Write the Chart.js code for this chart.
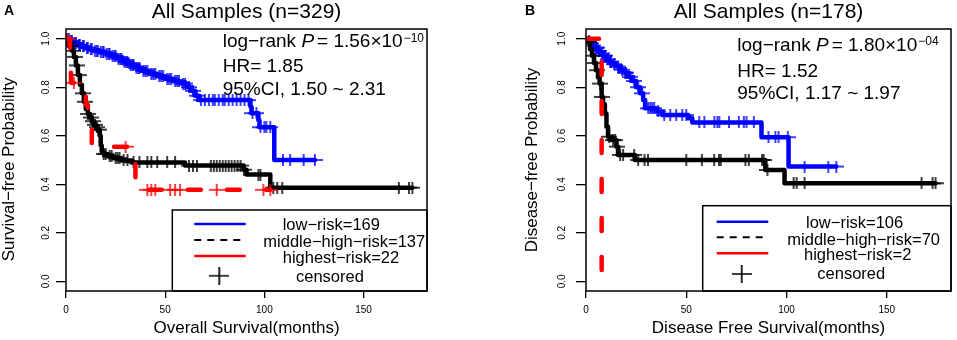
<!DOCTYPE html>
<html>
<head>
<meta charset="utf-8">
<script src="https://cdn.jsdelivr.net/npm/chart.js@4.4.1/dist/chart.umd.min.js"></script>
<style>
  html, body { margin: 0; padding: 0; background: #fff; }
  #wrap { position: relative; width: 957px; height: 340px; overflow: hidden; }
  canvas { position: absolute; top: 0; }
  #chartA { left: 0; }
  #chartB { left: 480px; }
</style>
</head>
<body>
<div id="wrap">
  <canvas id="chartA" width="480" height="340"></canvas>
  <canvas id="chartB" width="477" height="340"></canvas>
</div>
<script>
// ---- shared axes ----
const xTicks = [0, 50, 100, 150];
const yTicks = [0.0, 0.2, 0.4, 0.6, 0.8, 1.0];

// ---- panel A : overall survival (event times / survival after event) ----
const lowA_t = [0, 2, 4, 6, 8, 10, 12, 14, 17, 20, 23, 26, 29, 32, 35, 38, 42, 46, 50, 54, 58, 61, 63, 65, 67, 93, 93.5, 97, 97.5, 105, 125.5];
const lowA_s = [1, .99, .982, .975, .968, .962, .957, .951, .945, .938, .928, .918, .905, .893, .88, .868, .856, .845, .835, .825, .815, .80, .785, .765, .747, .72, .693, .664, .635, .50, .50];
const lowA_cens = [0.5, 1.5, 2.5, 3, 4.5, 5, 6.5, 7, 8.5, 9, 10.5, 11, 12.5, 13, 14.5, 15.5, 16, 17.5, 18.5, 19, 20.5, 21.5, 22, 23.5, 24.5, 25, 26.5, 27.5, 28, 29.5, 30.5, 31, 32.5, 33.5, 34, 35.5, 36.5, 37, 39, 40, 41, 43, 44, 45, 47, 48, 49, 51, 52, 53, 55, 56, 57, 59, 60, 62, 64, 66, 68, 70, 72, 74, 75, 77, 79, 80, 82, 84, 86, 88, 90, 92, 94, 96, 98, 100, 101, 103, 109.4, 113, 119.8, 125.5];

const midA_t = [0, 1, 2, 3, 4, 5, 6, 7, 8, 9, 10, 11, 12, 13, 14, 15, 16, 17, 17.5, 18, 19, 21, 24, 28, 33, 60, 89.5, 91, 103, 174.6];
const midA_s = [1, .985, .97, .95, .925, .89, .85, .81, .775, .74, .71, .69, .675, .66, .645, .635, .625, .60, .56, .535, .525, .515, .507, .498, .49, .477, .46, .44, .386, .386];
const midA_cens = [1, 2.5, 3.5, 4.5, 5.5, 6.5, 8.5, 9.5, 11, 12.5, 13.5, 14.5, 15.5, 16.5, 19, 20, 22, 23, 25, 26, 27, 29, 31, 34, 37, 41, 43, 46, 51, 55, 62, 64, 66, 73, 74.5, 76, 77.5, 79, 80.5, 82, 83.5, 85, 86.5, 88, 89.7, 97, 98, 104.5, 106.5, 109, 167.8, 172.9, 174.6];

const highA_t = [0, 2, 2.5, 10, 11, 12, 13, 35, 103];
const highA_s = [1, .909, .818, .727, .682, .636, .555, .377, .377];
const highA_cens = [1, 4, 30, 41, 43, 45, 52.5, 55, 57.5, 76, 99.5, 103];

const titleA = 'All Samples (n=329)';
const xLabelA = 'Overall Survival(months)';
const yLabelA = 'Survival\u2212free Probability    ';
const legendA = ['low\u2212risk=169', 'middle\u2212high\u2212risk=137', 'highest\u2212risk=22', 'censored'];
const statA = ['1.56', '\u221210', '1.85', '1.50', '2.31'];

// ---- panel B : disease free survival ----
const lowB_t = [0, 1, 2, 3, 4.5, 6, 7, 8.5, 10, 11.5, 13, 15, 17, 19, 21, 23, 25, 27, 28.5, 29.5, 35, 38, 51, 53, 87.5, 101, 124.8];
const lowB_s = [1, .99, .981, .972, .963, .95, .94, .93, .915, .905, .895, .885, .872, .86, .843, .826, .80, .775, .747, .713, .70, .685, .672, .655, .594, .473, .473];
const lowB_cens = [1.5, 2.5, 3.5, 5, 5.5, 6.5, 8, 9, 9.5, 11, 12, 12.5, 14, 16, 18, 19.5, 20, 22, 24, 26, 28, 31, 32, 33, 34, 36, 39, 42, 45, 48, 50, 56.5, 59, 64, 65.5, 66.5, 71.3, 76.2, 78.7, 80, 83.7, 91, 94.4, 96, 100.6, 109, 120.8, 124.8];

const midB_t = [0, 1, 2, 3, 4, 5, 6, 6.8, 7.8, 8.5, 9.4, 10.2, 11, 12.7, 15.2, 16, 24.3, 89.4, 99, 174.3];
const midB_s = [1, .986, .957, .93, .90, .87, .84, .815, .76, .73, .692, .637, .596, .582, .555, .521, .50, .459, .404, .404];
const midB_cens = [1.5, 3.5, 4.5, 5.5, 7, 8, 11.5, 13.5, 14.5, 15.5, 17, 18.5, 24, 26, 29.2, 30.9, 50, 57.8, 63.9, 66.3, 67.2, 79.5, 81.2, 87.8, 88.6, 90.5, 103.5, 105, 109, 167.3, 172.8, 174.3];

const highB_t = [0, 7.8];
const highB_s = [1, 0];
const highB_cens = [];

const titleB = 'All Samples (n=178)';
const xLabelB = 'Disease Free Survival(months)';
const yLabelB = 'Disease\u2212free Probability';
const legendB = ['low\u2212risk=106', 'middle\u2212high\u2212risk=70', 'highest\u2212risk=2', 'censored'];
const statB = ['1.80', '\u221204', '1.52', '1.17', '1.97'];

// ---- helpers ----
const FAM = "'Liberation Sans', Arial, Helvetica, sans-serif";
const BLUE = '#0000ff', BLACK = '#000000', RED = '#ff0000';

function makePlus(color, w, h, lw) {
  const c = document.createElement('canvas');
  c.width = w; c.height = h;
  const g = c.getContext('2d');
  g.strokeStyle = color;
  g.lineWidth = lw;
  g.beginPath();
  g.moveTo(0, h / 2); g.lineTo(w, h / 2);
  g.moveTo(w / 2, 0); g.lineTo(w / 2, h);
  g.stroke();
  return c;
}

function survAt(times, surv, t) {
  let s = surv[0];
  for (let i = 0; i < times.length; i++) {
    if (times[i] <= t) s = surv[i];
  }
  return s;
}

function curveSet(times, surv, color, dashed) {
  return {
    data: times.map((t, i) => ({ x: t, y: surv[i] })),
    showLine: true,
    stepped: 'before',
    borderColor: color,
    borderWidth: 4.5,
    borderDash: dashed ? [13, 26] : [],
    borderCapStyle: 'round',
    borderJoinStyle: 'round',
    pointRadius: 0,
    fill: false
  };
}

function censorSet(times, surv, cens, color) {
  return {
    data: cens.map(t => ({ x: t, y: survAt(times, surv, t) })),
    showLine: false,
    pointStyle: makePlus(color, 16, 12, 1.5),
    pointRadius: 5,
    borderColor: color,
    backgroundColor: color
  };
}

function panelDecor(p) {
  return {
    id: 'panelDecor',
    afterDatasetsDraw(chart) {
      const ctx = chart.ctx;
      const a = chart.chartArea;
      ctx.save();
      // legend box
      ctx.fillStyle = '#fff';
      ctx.fillRect(p.legX, p.legY, a.right - p.legX, a.bottom - p.legY);
      ctx.strokeStyle = '#000';
      ctx.lineWidth = 1.5;
      ctx.strokeRect(p.legX, p.legY, a.right - p.legX, a.bottom - p.legY);
      // plot box
      ctx.strokeRect(a.left, a.top, a.right - a.left, a.bottom - a.top);

      // legend samples
      const cols = [BLUE, BLACK, RED];
      for (let i = 0; i < 3; i++) {
        ctx.beginPath();
        ctx.strokeStyle = cols[i];
        ctx.lineWidth = i === 1 ? 2 : 2.5;
        ctx.setLineDash(i === 1 ? [7, 6] : []);
        ctx.moveTo(p.sampleX[0], p.sampleY[i]);
        ctx.lineTo(p.sampleX[1], p.sampleY[i]);
        ctx.stroke();
      }
      ctx.setLineDash([]);
      const plus = makePlus('#000', 20, 18, 1.7);
      ctx.drawImage(plus, p.plusXY[0] - 10, p.plusXY[1] - 9);

      // legend text
      ctx.fillStyle = '#000';
      ctx.textBaseline = 'alphabetic';
      ctx.textAlign = 'left';
      ctx.font = '16.5px ' + FAM;
      p.legend.forEach((s, i) => ctx.fillText(s, p.legTextX[i], p.legTextY[i]));

      // statistics
      const F19 = '19px ' + FAM;
      let x = p.statX;
      const y0 = p.statY[0];
      ctx.font = F19;
      ctx.fillText('log\u2212rank ', x, y0);
      x += ctx.measureText('log\u2212rank ').width;
      ctx.font = 'italic ' + F19;
      ctx.fillText('P', x, y0);
      x += ctx.measureText('P').width + 3;
      ctx.font = F19;
      const pTxt = '= ' + p.stat[0] + '\u00d710';
      ctx.fillText(pTxt, x, y0);
      x += ctx.measureText(pTxt).width + 1;
      ctx.font = '12px ' + FAM;
      ctx.fillText(p.stat[1], x, y0 - 5.5);
      ctx.font = F19;
      ctx.fillText('HR= ' + p.stat[2], p.statX, p.statY[1]);
      ctx.fillText('95%CI, ' + p.stat[3] + ' ~ ' + p.stat[4], p.statX, p.statY[2]);

      // panel letter
      ctx.font = 'bold 14px ' + FAM;
      ctx.fillText(p.letter, p.letterX, 15);
      ctx.restore();
    }
  };
}

function buildPanel(id, sets, txt, lay) {
  const ctx = document.getElementById(id).getContext('2d');
  new Chart(ctx, {
    type: 'scatter',
    data: { datasets: sets },
    options: {
      responsive: false,
      animation: false,
      devicePixelRatio: 1,
      layout: { padding: { left: 0, right: lay.padRight, top: 0, bottom: 0 } },
      plugins: {
        legend: { display: false },
        tooltip: { enabled: false },
        title: {
          display: true,
          text: txt.title,
          fullSize: false,
          color: '#000',
          font: { family: FAM, size: 21, weight: 'normal', lineHeight: 1.2 },
          padding: { top: 0, bottom: 3.8 }
        }
      },
      scales: {
        x: {
          type: 'linear',
          min: 0,
          max: 182,
          afterBuildTicks: s => { s.ticks = xTicks.map(v => ({ value: v })); },
          afterFit: s => { s.height = 49; },
          ticks: {
            color: '#000',
            font: { family: FAM, size: 10 },
            padding: 6.5,
            maxRotation: 0,
            callback: v => String(v)
          },
          grid: { drawOnChartArea: false, tickLength: 7, color: '#000', lineWidth: 1.3 },
          border: { display: false },
          title: {
            display: true,
            text: txt.xLabel,
            color: '#000',
            font: { family: FAM, size: 17, lineHeight: 1.2 },
            padding: { top: 0, bottom: 1.8 }
          }
        },
        y: {
          type: 'linear',
          min: -0.04,
          max: 1.04,
          afterBuildTicks: s => { s.ticks = yTicks.map(v => ({ value: v })); },
          afterFit: s => { s.width = lay.yWidth; },
          ticks: {
            color: '#000',
            font: { family: FAM, size: 10 },
            minRotation: 90,
            maxRotation: 90,
            crossAlign: 'center',
            padding: lay.yTickPad,
            callback: v => v.toFixed(1)
          },
          grid: { drawOnChartArea: false, tickLength: 10, color: '#000', lineWidth: 1.3 },
          border: { display: false },
          title: {
            display: true,
            text: txt.yLabel,
            color: '#000',
            font: { family: FAM, size: 17, lineHeight: 1.1 },
            padding: { top: lay.yTitlePad, bottom: 0 }
          }
        }
      }
    },
    plugins: [panelDecor(lay.decor)]
  });
}

// ---- panel A ----
buildPanel('chartA', [
  censorSet(highA_t, highA_s, highA_cens, RED),
  curveSet(highA_t, highA_s, RED, true),
  censorSet(midA_t, midA_s, midA_cens, BLACK),
  curveSet(midA_t, midA_s, BLACK, false),
  censorSet(lowA_t, lowA_s, lowA_cens, BLUE),
  curveSet(lowA_t, lowA_s, BLUE, false)
], { title: titleA, xLabel: xLabelA, yLabel: yLabelA }, {
  padRight: 53, yWidth: 66, yTickPad: 3, yTitlePad: 0,
  decor: {
    letter: 'A', letterX: 4,
    legX: 172.3, legY: 210,
    sampleX: [194.3, 245.7], sampleY: [224, 240, 256], plusXY: [219.3, 275.8],
    legend: legendA, legTextX: [282.7, 263.3, 282.7, 296], legTextY: [230, 246.5, 262.5, 281.7],
    stat: statA, statX: 222.7, statY: [47, 71.7, 95]
  }
});

// ---- panel B ----
buildPanel('chartB', [
  censorSet(highB_t, highB_s, highB_cens, RED),
  curveSet(highB_t, highB_s, RED, true),
  censorSet(midB_t, midB_s, midB_cens, BLACK),
  curveSet(midB_t, midB_s, BLACK, false),
  censorSet(lowB_t, lowB_s, lowB_cens, BLUE),
  curveSet(lowB_t, lowB_s, BLUE, false)
], { title: titleB, xLabel: xLabelB, yLabel: yLabelB }, {
  padRight: 3, yWidth: 106, yTickPad: 6.5, yTitlePad: 43,
  decor: {
    letter: 'B', letterX: 45,
    legX: 222.7, legY: 205.7,
    sampleX: [236.7, 288.3], sampleY: [221.7, 237.3, 253.3], plusXY: [261.7, 274],
    legend: legendB, legTextX: [326, 307.3, 324, 337.3], legTextY: [228.3, 244.5, 260, 279.3],
    stat: statB, statX: 257.3, statY: [50.5, 76.7, 99.3]
  }
});
</script>
</body>
</html>
